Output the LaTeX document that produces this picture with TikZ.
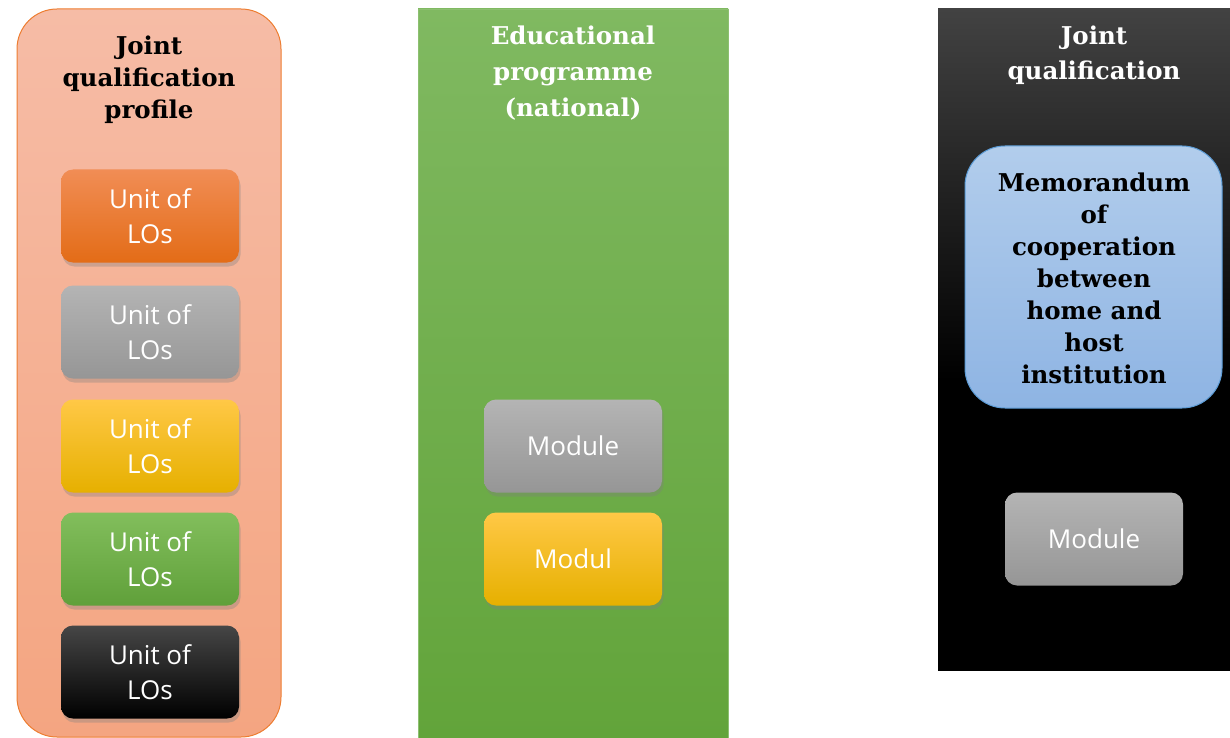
\documentclass[tikz,border=0pt]{standalone}
\usepackage{fontspec}
\setmainfont{Open Sans}
\newfontfamily\headfont{DejaVu Serif}
\usetikzlibrary{shadows}
\definecolor{panelorange}{HTML}{F6BCA6}
\definecolor{panelorangeB}{HTML}{F4A581}
\definecolor{orangeline}{HTML}{ED7D31}
\definecolor{greenTop}{HTML}{80B961}
\definecolor{greenBot}{HTML}{62A43A}
\definecolor{blueTop}{HTML}{B2CDEC}
\definecolor{blueBot}{HTML}{8EB4E3}
\definecolor{blueline}{HTML}{5B9BD5}
\begin{document}
\begin{tikzpicture}[x=1pt,y=-1pt,
  headtext/.style={align=center, font=\headfont\bfseries\fontsize{24.5}{32}\selectfont},
  boxtext/.style={align=center, text=white, font=\fontsize{26}{35}\selectfont},
  boxbase/.style={rounded corners=12pt, minimum width=178pt, minimum height=93pt, boxtext},
  unitbox/.style={boxbase, drop shadow={opacity=0.35, shadow xshift=1.5pt, shadow yshift=-4pt}},
  orangebox/.style={unitbox, top color={rgb,255:red,241;green,141;blue,85}, middle color={rgb,255:red,240;green,127;blue,42}, bottom color={rgb,255:red,227;green,108;blue,23}},
  grayfill/.style={top color={rgb,255:red,180;green,180;blue,180}, bottom color={rgb,255:red,150;green,150;blue,150}},
  graybox/.style={unitbox, grayfill},
  yellowbox/.style={unitbox, top color={rgb,255:red,255;green,200;blue,70}, middle color={rgb,255:red,255;green,192;blue,0}, bottom color={rgb,255:red,230;green,176;blue,0}},
  greenbox/.style={unitbox, top color={rgb,255:red,130;green,190;blue,92}, bottom color={rgb,255:red,96;green,160;blue,58}},
  blackbox/.style={unitbox, top color={rgb,255:red,70;green,70;blue,70}, middle color=black, bottom color=black}
]
\useasboundingbox (0,0) rectangle (1230,738);
% left panel
\path[draw=orangeline, line width=1pt, rounded corners=40pt, top color=panelorange, bottom color=panelorangeB]
  (17,9) rectangle (281,737);
\node[headtext] (lhead) at (149,80) {Joint\\qualification\\profile};
\node[orangebox] (u1) at (150,216) {Unit of\\LOs};
\node[graybox] (u2) at (150,332) {Unit of\\LOs};
\node[yellowbox] (u3) at (150,446) {Unit of\\LOs};
\node[greenbox] (u4) at (150,559) {Unit of\\LOs};
\node[blackbox] (u5) at (150,672) {Unit of\\LOs};
% middle panel
\path[top color=greenTop, bottom color=greenBot, draw=greenTop!90!white, line width=0.6pt] (418,9) rectangle (728,738);
\node[headtext, text=white, font=\headfont\bfseries\fontsize{24.5}{36}\selectfont] (mhead) at (573,73) {Educational\\programme\\(national)};
\node[graybox] (m1) at (573,446) {Module};
\node[yellowbox] (m2) at (573,559) {Modul};
% right panel
\path[top color={rgb,255:red,66;green,66;blue,66}, bottom color=black] (938,9) rectangle (1230,380);
\path[fill=black] (938,379) rectangle (1230,671);
\node[headtext, text=white, font=\headfont\bfseries\fontsize{24.5}{35}\selectfont] (rhead) at (1094,55) {Joint\\qualification};
\path[draw=blueline, line width=1pt, rounded corners=40pt, top color=blueTop, bottom color=blueBot]
  (965,146) rectangle (1222,408);
\node[headtext, text=black] (memo) at (1094,278) {Memorandum\\of\\cooperation\\between\\home and\\host\\institution};
\node[boxbase, grayfill] (r1) at (1094,539) {Module};
\end{tikzpicture}
\end{document}
